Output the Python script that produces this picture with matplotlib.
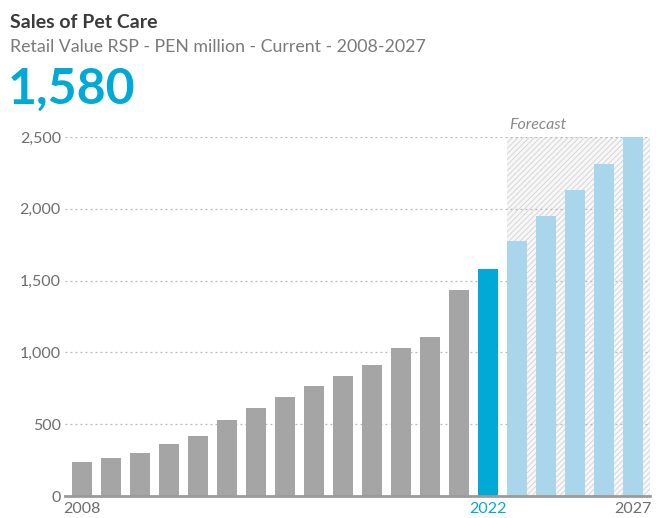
import matplotlib
matplotlib.use("Agg")
import matplotlib.pyplot as plt

years = list(range(2008, 2028))
values = [239, 262, 301, 362, 418, 529, 610, 691, 763, 833,
          912, 1030, 1109, 1432, 1580, 1775, 1953, 2130, 2311, 2500]
current_year = 2022
yticks = [0, 500, 1000, 1500, 2000, 2500]
ytick_labels = ["0", "500", "1,000", "1,500", "2,000", "2,500"]
xtick_years = [2008, 2022, 2027]

GRAY = "#a5a5a6"
BLUE = "#00a9d6"
LIGHT_BLUE = "#a9d6ea"
TEXT_GRAY = "#6e6e6e"

plt.rcParams["font.family"] = ["Lato", "DejaVu Sans"]
plt.rcParams["hatch.linewidth"] = 0.7

W, H = 656, 518
fig = plt.figure(figsize=(W / 100, H / 100), dpi=100)
ax = fig.add_axes([65 / W, 22 / H, (650 - 65) / W, (496 - 137) / H])

colors = []
for y in years:
    if y < current_year:
        colors.append(GRAY)
    elif y == current_year:
        colors.append(BLUE)
    else:
        colors.append(LIGHT_BLUE)

# forecast band
ax.fill_between([2022.655, 2027.6], 0, 2500, facecolor="#f7f7f7",
                edgecolor="#d6d6d6", hatch="//////", linewidth=0, zorder=0)
ax.text(2022.72, 2535, "Forecast", fontsize=11.5, style="italic",
        color="#8a8a8a", ha="left", va="bottom")

ax.bar(years, values, width=0.68, color=colors, zorder=2, clip_on=False)

ax.set_xlim(2007.414, 2027.586)
ax.set_ylim(0, 2500)

for t in yticks[1:]:
    ax.axhline(t, color="#b8b8b8", lw=0.9, ls=(0, (1.5, 2.5)), zorder=1)

ax.set_yticks(yticks)
ax.set_yticklabels(ytick_labels)
ax.set_xticks(xtick_years)
ax.set_xticklabels([str(y) for y in xtick_years])
ax.tick_params(axis="both", length=0, labelsize=11.5, colors=TEXT_GRAY)
ax.tick_params(axis="y", pad=3)
ax.tick_params(axis="x", pad=4)
for lbl, y in zip(ax.get_xticklabels(), xtick_years):
    lbl.set_color(BLUE if y == current_year else TEXT_GRAY)

for s in ["top", "right", "left"]:
    ax.spines[s].set_visible(False)
ax.spines["bottom"].set_color("#9a9a9a")
ax.spines["bottom"].set_linewidth(2)
ax.spines["bottom"].set_zorder(3)
ax.patch.set_visible(False)

fig.text(10 / W, 1 - 22 / H, "Sales of Pet Care", fontsize=14, fontweight="bold",
         color="#3a3a3a", va="center", ha="left")
fig.text(10 / W, 1 - 47 / H, "Retail Value RSP - PEN million - Current - 2008-2027",
         fontsize=12.8, color="#7a7a7a", va="center", ha="left")
fig.text(8 / W, 1 - 89 / H, f"{values[years.index(current_year)]:,}", fontsize=36,
         fontweight="bold", color=BLUE, va="center", ha="left")

fig.savefig("out.png", dpi=100)
